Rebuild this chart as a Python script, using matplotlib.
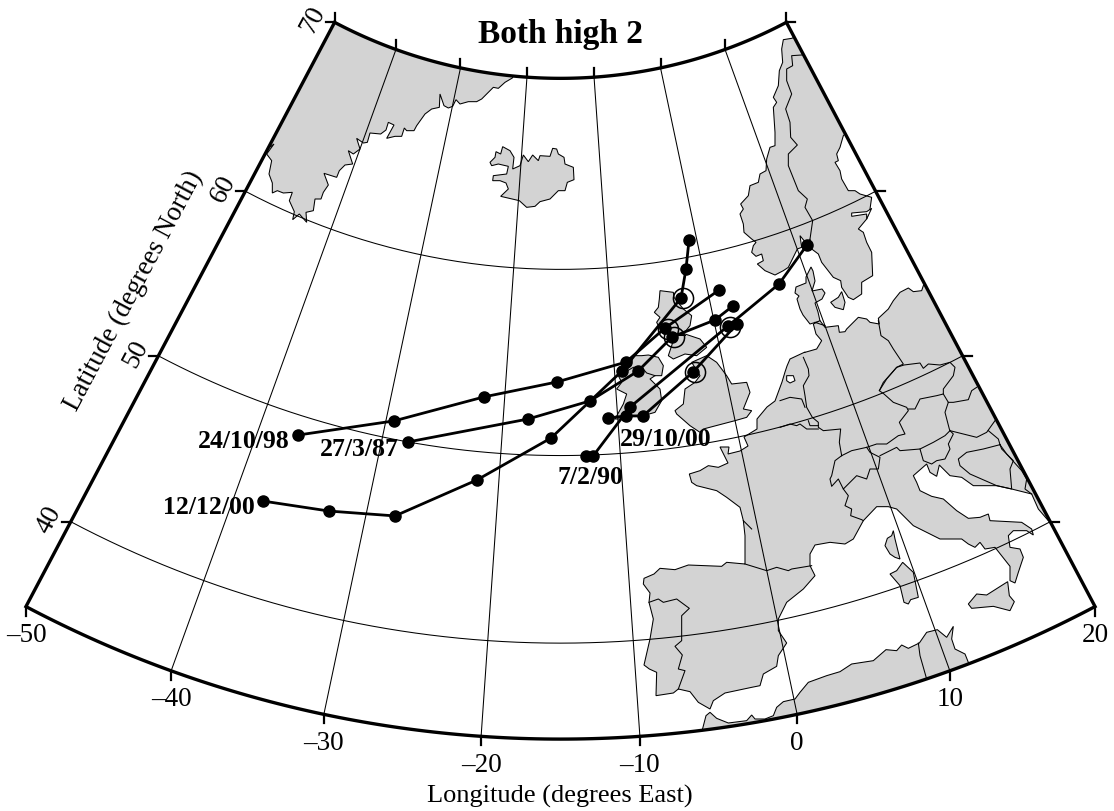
import numpy as np
import matplotlib
matplotlib.use("Agg")
import matplotlib.pyplot as plt
from matplotlib.patches import Polygon

plt.rcParams['font.family'] = ['Liberation Serif', 'DejaVu Serif']

# Lambert conic fitted to the frame corners, gives sheet x, y from lon, lat
N = 0.7957
F = 1923.7
X0 = 560.5
Y0 = -404.2

def proj(lon, lat):
    lon = np.asarray(lon, dtype=float)
    lat = np.asarray(lat, dtype=float)
    r = F * np.tan(np.radians(45 - lat / 2)) ** N
    a = np.radians(N * (lon + 15))
    return X0 + r * np.sin(a), Y0 + r * np.cos(a)

# coastlines are traced in sheet coordinates from 3x crops
def traced(pts, ox, oy):
    return [(ox + a / 3, oy + b / 3) for a, b in pts]
def z1(p): return traced(p, 600, 220)
def z2(p): return traced(p, 720, 20)
def z3(p): return traced(p, 780, 280)
def z4(p): return traced(p, 630, 440)
def z5(p): return traced(p, 880, 480)
def z6(p): return traced(p, 260, 30)

land = {}
land['greenland'] = z6([(757,147),(735,160),(715,178),(700,175),(690,185),(665,210),(650,218),(625,218),(600,225),(588,212),(578,232),(565,237),(552,230),(540,195),(538,235),(515,240),(495,255),(470,290),(462,305),(440,305),(433,297),(425,322),(405,322),(380,328),(402,288),(385,280),(378,303),(362,315),(330,312),(322,340),(310,342),(290,328),(300,360),(280,375),(265,365),(278,405),(255,408),(238,425),(230,445),(192,433),(205,468),(190,490),(183,510),(165,510),(160,545),(138,550),(140,580),(118,555),(98,572),(103,548),(88,515),(97,490),(70,492),(52,485),(37,492),(37,462),(27,435),(35,395),(20,375),(42,345),(15,365),(-60,300),(150,-60),(800,60)])
land['iceland'] = z6([(690,400),(705,385),(708,368),(722,375),(728,353),(750,365),(762,385),(758,420),(780,410),(790,378),(805,398),(818,378),(835,395),(840,380),(870,382),(878,358),(890,360),(895,375),(912,385),(915,405),(940,415),(942,452),(922,460),(915,485),(895,485),(870,510),(840,518),(825,532),(800,535),(778,515),(722,502),(745,480),(738,462),(720,455),(698,455),(700,440),(740,435),(745,412),(715,405),(695,410)])
land['scandinavia'] = z2([(190,62),(215,58),(260,40),(420,300),(370,350),(360,385),(350,405),(355,425),(345,430),(360,455),(365,480),(385,515),(405,515),(420,525),(455,535),(450,570),(440,600),(415,630),(430,640),(440,670),(455,700),(458,770),(425,790),(425,825),(400,842),(385,835),(365,805),(362,785),(340,775),(305,730),(295,705),(275,690),(270,660),(262,677),(240,650),(245,685),(232,690),(205,745),(190,755),(165,768),(135,755),(112,735),(130,725),(125,705),(108,712),(95,700),(100,680),(108,670),(95,660),(72,640),(70,615),(60,585),(70,570),(62,555),(85,530),(90,500),(115,490),(120,465),(138,455),(140,420),(150,385),(165,380),(165,340),(160,265),(170,250),(160,235),(175,200),(178,155),(188,130),(185,90)])
land['denmark'] = [(811,268),(806,278),(806,284),(796,288),(795,294),(799,297),(797,300),(800,310),(803,316),(810,325),(820,322),(818,313),(815,304),(822,300),(825,294),(822,290),(812,292),(815,282),(813,272)]
land['sjaelland'] = z3([(152,70),(175,55),(185,38),(195,70),(190,92),(165,85)])
land['ireland'] = z1([(55,470),(75,465),(95,430),(100,410),(125,410),(145,408),(175,415),(190,440),(185,470),(165,470),(150,480),(180,510),(185,545),(165,580),(130,590),(100,590),(70,600),(45,600),(70,555),(80,525),(50,510),(65,490)])
land['scotland'] = z1([(180,215),(220,220),(222,235),(250,270),(275,290),(270,320),(250,345),(225,345),(190,345),(175,320),(170,310),(180,295),(163,280),(175,265),(178,240)])
land['scot_south'] = z1([(255,345),(300,360),(320,385),(290,410),(255,405),(220,420),(205,410),(215,380),(225,350)])
land['england'] = z1([(320,410),(350,430),(380,470),(395,495),(440,490),(450,520),(430,570),(455,575),(440,595),(405,605),(310,630),(300,640),(270,620),(230,585),(225,575),(250,555),(255,510),(285,490),(300,470),(275,430)])
land['europe'] = (
    z3([(430,20),(425,35),(400,38),(385,27),(360,40),(340,65),(325,90),(295,118),(298,135),(270,130),(260,120),(235,115),(200,150),(195,158),(178,160),(175,140),(135,145),(120,125),(100,135),(108,165),(125,185),(110,210),(75,220)])
    + [(805,353),(790,360),(787,367),(785,373),(782,383),(775,402),(767,408),(757,420),(757,430),(744,438),(748,447),(740,452),(728,455),(729,448),(720,448),(724,456),(728,464)]
    + z4([(265,85),(235,80),(210,95),(178,105),(185,130),(200,140),(260,155),(290,175),(330,205),(340,245),(345,290),(345,375),(290,370),(275,382),(175,378),(135,392),(90,388),(72,405),(42,418),(40,435),(60,462),(57,490),(70,540),(60,600),(42,678),(58,690),(80,700),(78,770),(130,762),(145,750),(180,758),(205,790),(240,810),(250,785),(285,762),(365,745),(390,740),(400,705),(440,682),(445,650),(470,612),(445,575),(445,540),(470,490),(520,450),(555,410),(540,380),(540,345),(555,318),(600,310),(645,315),(670,300),(700,245),(740,203),(775,203),(800,210),(850,260)])
    + z5([(130,155),(180,180),(245,180),(265,195),(285,205),(300,190),(315,210),(345,205),(390,262),(390,305),(405,312),(415,280),(430,235),(420,210),(390,205),(385,170),(400,155),(440,155),(460,168),(455,150),(425,130),(330,125),(325,105),(300,115),(265,118),(230,95),(190,60),(155,52),(120,35),(110,10)])
    + z3([(400,590),(440,555),(450,580),(470,592),(478,558),(510,590),(545,595),(580,620),(650,620),(695,630),(755,645),(775,690),(805,725),(820,730),(900,780),(860,200),(560,-40)])
)
land['corsica'] = z5([(40,155),(45,180),(60,240),(45,235),(30,225),(15,200),(22,178),(35,170)])
land['sardinia'] = z5([(68,250),(100,280),(115,355),(92,362),(85,375),(72,370),(60,320),(30,285),(50,275)])
land['sicily'] = z5([(383,308),(388,350),(403,368),(390,395),(340,382),(275,388),(265,375),(290,345),(320,348)])
land['africa'] = z4([(1015,670),(1005,645),(975,630),(965,600),(970,562),(950,595),(922,572),(890,580),(868,612),(835,628),(815,618),(800,635),(768,632),(730,665),(665,675),(630,698),(590,710),(535,730),(510,760),(495,780),(460,788),(440,805),(430,830),(405,840),(375,840),(365,828),(350,845),(295,852),(260,838),(240,820),(228,830),(215,880),(200,960),(1100,800),(1060,700)])

water = {}
water['vanern'] = z2([(395,582),(440,578),(455,568),(440,600),(440,585),(395,592)])
water['ijssel'] = z3([(20,290),(40,290),(45,305),(30,312),(20,305)])

borders = {}
borders['norway'] = z2([(245,108),(215,110),(218,140),(200,150),(200,185),(215,225),(197,270),(210,310),(212,355),(232,378),(205,405),(205,440),(235,515),(262,540),(255,565),(278,605),(270,660)])
borders['irish'] = z1([(60,468),(100,445),(125,445),(140,462),(165,470)])
borders['scot'] = z1([(225,348),(255,348)])
borders['germany_w'] = z3([(70,235),(85,270),(87,290),(70,320),(75,350),(80,385),(97,415),(115,430),(115,445),(130,455),(182,450),(178,490),(185,530)])
borders['swiss_n'] = z3([(185,530),(215,515),(260,505),(290,495),(320,495),(355,470),(375,465),(358,430),(385,395),(380,385),(340,370),(312,345),(298,335),(310,310),(350,265),(370,255),(340,210),(325,185),(303,170),(295,125)])
borders['czech'] = z3([(298,335),(320,300),(350,265),(372,258),(420,252),(430,268),(445,255),(480,258),(510,250),(525,265),(520,290),(490,330),(490,345),(470,350),(420,360),(405,390),(385,390)])
borders['austria_e'] = z3([(490,345),(505,370),(495,400),(508,450),(510,455),(495,470),(460,490),(420,510),(360,515),(350,505),(300,530)])
borders['swiss_s'] = z3([(185,530),(165,545),(155,590),(150,600),(155,622),(175,600),(190,630),(230,590),(260,600),(270,570),(295,570),(300,535),(270,520),(260,505)])
borders['italy_w'] = z3([(190,630),(205,650),(195,680),(215,690),(212,710),(245,722),(250,725)])
borders['slovenia'] = z3([(420,510),(430,545),(455,555),(470,545),(495,540),(510,510),(505,495),(520,465),(510,455)])
borders['slovakia'] = z3([(505,370),(520,370),(565,362),(575,335),(590,325)])
borders['hungary'] = z3([(510,455),(590,475),(620,460),(645,425)])
borders['bosnia'] = z3([(625,455),(655,480),(660,497),(610,510),(560,520),(535,540),(540,560),(570,585),(650,620),(695,630),(690,570),(700,545),(665,510),(660,497)])
borders['serbia'] = z3([(660,497),(680,525),(725,575),(740,600),(735,630),(755,645)])
borders['dk'] = z3([(105,130),(135,140)])
borders['nl_be'] = z3([(0,365),(30,355),(65,360),(75,385)])
borders['be_fr'] = z3([(0,445),(30,435),(50,440),(60,435),(80,450),(115,450)])
borders['lux'] = z3([(85,425),(90,440),(115,440)])
borders['pyrenees'] = z4([(345,375),(410,395),(440,385),(475,395),(485,390),(545,380)])
borders['portugal'] = z4([(57,490),(85,480),(100,490),(140,480),(178,508),(155,530),(155,605),(135,622),(157,648),(145,690),(165,695),(145,750)])
borders['gironde'] = z4([(340,245),(365,270)])
borders['tunisia'] = z4([(865,612),(870,650),(890,720)])

# storm tracks, lon then lat
track_names = ['24/10/98', '27/3/87', '12/12/00', '7/2/90', '29/10/00']
track_lon = [
    [-36.8, -29.32, -21.85, -15.32, -8.87, -4.81, 1.14],
    [-27.82, -17.84, -12.37, -7.83, -4.26, 0.11, 2.13],
    [-37.84, -32.82, -27.8, -21.77, -15.81, -9.31, -2.78, -1.75, -0.84],
    [-12.87, -12.28, -8.85, 1.22, 7.11, 11.09],
    [-10.85, -9.27, -7.79, -2.84, 2.1],
]
track_lat = [
    [48.95, 50.97, 52.96, 53.96, 54.88, 56.46, 57.94],
    [50.0, 51.93, 52.91, 54.34, 55.93, 56.42, 56.94],
    [45.01, 45.48, 45.97, 48.48, 50.94, 54.42, 57.92, 59.4, 60.89],
    [49.96, 49.94, 52.45, 55.95, 57.41, 58.89],
    [51.95, 51.99, 51.91, 53.89, 55.95],
]
ring_lon = [-2.58, -4.53, -4.07, -2.66, 1.38]
ring_lat = [57.9, 56.39, 55.91, 53.87, 55.88]

lon_ticks = [-50, -40, -30, -20, -10, 0, 10, 20]
lat_ticks = [40, 50, 60, 70]
lon_labels = ['\u201350', '\u201340', '\u201330', '\u201320', '\u201310', '0', '10', '20']

fig = plt.figure(figsize=(11.14, 8.12), dpi=100)
ax = fig.add_axes([0, 0, 1, 1])
ax.set_xlim(0, 1114)
ax.set_ylim(812, 0)
ax.axis('off')

lons = np.linspace(-50, 20, 141)
lats = np.linspace(35, 70, 71)
bottom = proj(lons, 35 + 0 * lons)
right = proj(20 + 0 * lats, lats)
top = proj(lons[::-1], 70 + 0 * lons)
left = proj(-50 + 0 * lats, lats[::-1])
fx = np.concatenate([bottom[0], right[0], top[0], left[0]])
fy = np.concatenate([bottom[1], right[1], top[1], left[1]])
frame = Polygon(np.column_stack([fx, fy]), closed=True, fill=False, ec='black', lw=2.4, zorder=6)
ax.add_patch(frame)

for name, pts in land.items():
    p = Polygon(pts, closed=True, fc='#d3d3d3', ec='black', lw=0.75, zorder=1)
    ax.add_patch(p)
    p.set_clip_path(frame)
for name, pts in water.items():
    ax.add_patch(Polygon(pts, closed=True, fc='white', ec='black', lw=0.75, zorder=2))
for name, pts in borders.items():
    a = np.array(pts)
    ax.plot(a[:, 0], a[:, 1], color='black', lw=0.75, zorder=2)

# graticule
for lo in lon_ticks[1:-1]:
    gx, gy = proj(lo + 0 * lats, lats)
    ax.plot(gx, gy, color='black', lw=0.75, zorder=3)
for la in lat_ticks[:-1]:
    gx, gy = proj(lons, la + 0 * lons)
    ax.plot(gx, gy, color='black', lw=0.75, zorder=3)

# ticks and labels
tick = 9
for lo, lab in zip(lon_ticks, lon_labels):
    x, y = proj(lo, 35)
    ax.plot([x, x], [y, y + tick], color='black', lw=1.6, zorder=6)
    ax.text(x, y + 28, lab, fontsize=19.5, ha='center', va='center')
    x, y = proj(lo, 70)
    ax.plot([x, x], [y, y - tick], color='black', lw=1.6, zorder=6)
for la in lat_ticks:
    x, y = proj(-50, la)
    ax.plot([x, x - tick], [y, y], color='black', lw=1.6, zorder=6)
    ax.text(x - 22, y - 3, str(la), fontsize=19.5, rotation=62, rotation_mode='anchor', ha='center', va='center')
    x, y = proj(20, la)
    ax.plot([x, x + tick], [y, y], color='black', lw=1.6, zorder=6)

for lo, la in zip(track_lon, track_lat):
    tx, ty = proj(lo, la)
    ax.plot(tx, ty, '-o', color='black', lw=2.0, ms=8, zorder=7)
rx, ry = proj(ring_lon, ring_lat)
ax.plot(rx, ry, 'o', mfc='none', mec='black', mew=1.1, ms=14.5, zorder=7)

label_x = [244, 359, 209, 590, 666]
label_y = [442, 450, 508, 478, 440]
for name, x, y in zip(track_names, label_x, label_y):
    ax.text(x, y, name, fontsize=18.5, fontweight='bold', ha='center', va='center', zorder=8)

ax.text(560, 35, 'Both high 2', fontsize=24, fontweight='bold', ha='center', va='center')
ax.text(560, 796, 'Longitude (degrees East)', fontsize=19, ha='center', va='center')
ax.text(134, 291, 'Latitude (degrees North)', fontsize=19.5, rotation=62, rotation_mode='anchor', ha='center', va='center')

fig.savefig('out.png', dpi=100)
